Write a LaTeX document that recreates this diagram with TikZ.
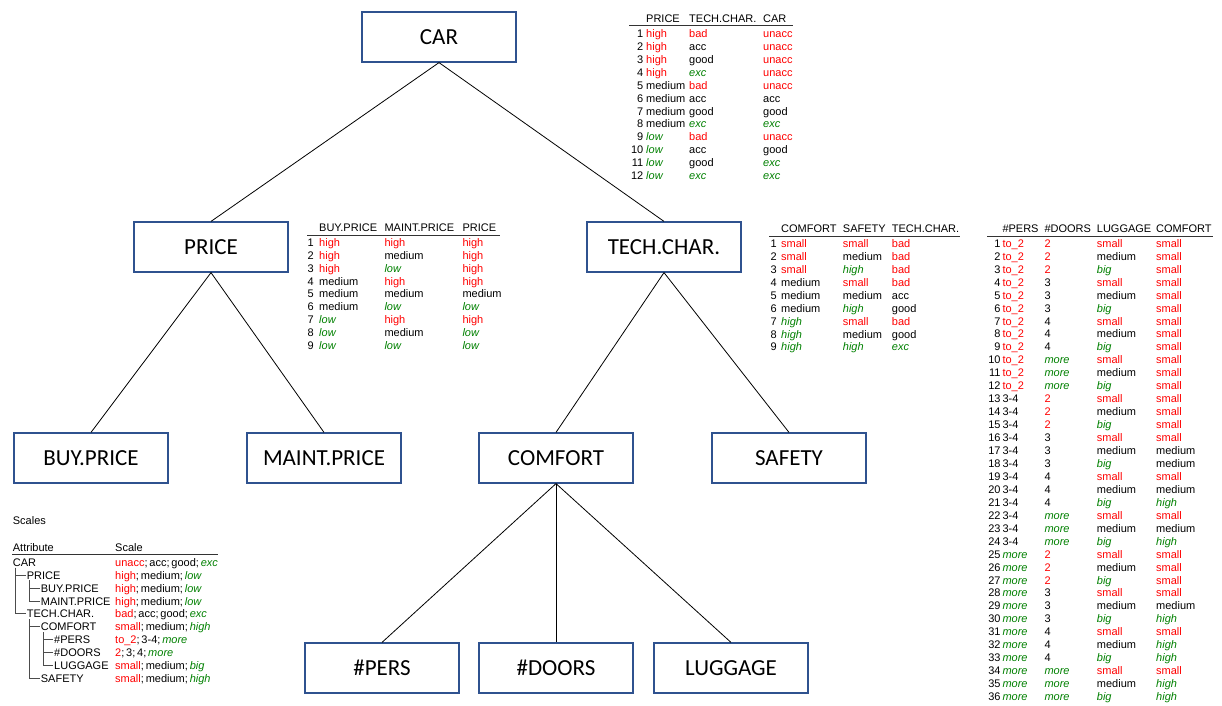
\documentclass[tikz,border=0pt]{standalone}
\usepackage{fontspec}
\setmainfont{Liberation Sans}
\newfontfamily\boxfont{Carlito}
\definecolor{valred}{HTML}{FF0000}
\definecolor{valgreen}{HTML}{008000}
\definecolor{boxblue}{HTML}{2F528F}
\newcommand{\valR}[1]{\textcolor{valred}{#1}}
\newcommand{\valG}[1]{\textcolor{valgreen}{\itshape #1}}
\tikzset{
  attr/.style={draw=boxblue, line width=1.2pt, minimum width=154pt, minimum height=50pt,
    inner sep=0pt, font=\boxfont\fontsize{23}{26}\selectfont},
  cell/.style={inner sep=0pt, anchor=west, text height=8pt, text depth=0pt,
    font=\fontsize{11}{13}\selectfont},
  num/.style={cell, anchor=east},
  rule/.style={line width=0.8pt, black!80},
  tree/.style={line width=0.9pt, black!70},
}
\begin{document}
\begin{tikzpicture}[x=1pt,y=-1pt]
  \useasboundingbox (0,0) rectangle (1222,705);
  % attribute tree
  \node[attr] (car) at (439,37) {CAR};
  \node[attr] (price) at (211,247) {PRICE};
  \node[attr] (tech) at (664,247) {TECH.CHAR.};
  \node[attr] (buy) at (91,458) {BUY.PRICE};
  \node[attr] (maint) at (324,458) {MAINT.PRICE};
  \node[attr] (comfort) at (556,458) {COMFORT};
  \node[attr] (safety) at (789,458) {SAFETY};
  \node[attr] (pers) at (382,668) {\#PERS};
  \node[attr] (doors) at (556,668) {\#DOORS};
  \node[attr] (luggage) at (731,668) {LUGGAGE};
  \begin{scope}[-, line width=0.8pt]
    \draw (car.south) to (price.north);
    \draw (car.south) to (tech.north);
    \draw (price.south) to (buy.north);
    \draw (price.south) to (maint.north);
    \draw (tech.south) to (comfort.north);
    \draw (tech.south) to (safety.north);
    \draw (comfort.south) to (pers.north);
    \draw (comfort.south) to (doors.north);
    \draw (comfort.south) to (luggage.north);
  \end{scope}

  % CAR rules
  \node[cell] (car-ha) at (646,18) {PRICE};
  \node[cell] (car-hb) at (689,18) {TECH.CHAR.};
  \node[cell] (car-hc) at (763,18) {CAR};
  \draw[rule] (629,25.7) -- (793,25.7);
  \foreach \n/\a/\b/\c in {1/\valR{high}/\valR{bad}/\valR{unacc},
      2/\valR{high}/acc/\valR{unacc}, 3/\valR{high}/good/\valR{unacc},
      4/\valR{high}/\valG{exc}/\valR{unacc}, 5/medium/\valR{bad}/\valR{unacc},
      6/medium/acc/acc, 7/medium/good/good, 8/medium/\valG{exc}/\valG{exc},
      9/\valG{low}/\valR{bad}/\valR{unacc}, 10/\valG{low}/acc/good,
      11/\valG{low}/good/\valG{exc}, 12/\valG{low}/\valG{exc}/\valG{exc}} {
    \pgfmathsetmacro\yy{33.3+(\n-1)*12.95}
    \node[num] (car-n\n) at (643.5,\yy) {\n};
    \node[cell] (car-a\n) at (646,\yy) {\a};
    \node[cell] (car-b\n) at (689,\yy) {\b};
    \node[cell] (car-c\n) at (763,\yy) {\c};
  }

  % PRICE rules
  \node[cell] (price-ha) at (319,227.3) {BUY.PRICE};
  \node[cell] (price-hb) at (384.3,227.3) {MAINT.PRICE};
  \node[cell] (price-hc) at (462.3,227.3) {PRICE};
  \draw[rule] (307,235.7) -- (500,235.7);
  \foreach \n/\a/\b/\c in {1/\valR{high}/\valR{high}/\valR{high},
      2/\valR{high}/medium/\valR{high}, 3/\valR{high}/\valG{low}/\valR{high},
      4/medium/\valR{high}/\valR{high}, 5/medium/medium/medium,
      6/medium/\valG{low}/\valG{low}, 7/\valG{low}/\valR{high}/\valR{high},
      8/\valG{low}/medium/\valG{low}, 9/\valG{low}/\valG{low}/\valG{low}} {
    \pgfmathsetmacro\yy{242.3+(\n-1)*12.92}
    \node[num] (price-n\n) at (314,\yy) {\n};
    \node[cell] (price-a\n) at (319,\yy) {\a};
    \node[cell] (price-b\n) at (384.3,\yy) {\b};
    \node[cell] (price-c\n) at (462.3,\yy) {\c};
  }

  % TECH.CHAR. rules
  \node[cell] (tech-ha) at (781,228.3) {COMFORT};
  \node[cell] (tech-hb) at (842.7,228.3) {SAFETY};
  \node[cell] (tech-hc) at (891.7,228.3) {TECH.CHAR.};
  \draw[rule] (769,236.7) -- (960,236.7);
  \foreach \n/\a/\b/\c in {1/\valR{small}/\valR{small}/\valR{bad},
      2/\valR{small}/medium/\valR{bad}, 3/\valR{small}/\valG{high}/\valR{bad},
      4/medium/\valR{small}/\valR{bad}, 5/medium/medium/acc,
      6/medium/\valG{high}/good, 7/\valG{high}/\valR{small}/\valR{bad},
      8/\valG{high}/medium/good, 9/\valG{high}/\valG{high}/\valG{exc}} {
    \pgfmathsetmacro\yy{243.3+(\n-1)*12.96}
    \node[num] (tech-n\n) at (777,\yy) {\n};
    \node[cell] (tech-a\n) at (781,\yy) {\a};
    \node[cell] (tech-b\n) at (842.7,\yy) {\b};
    \node[cell] (tech-c\n) at (891.7,\yy) {\c};
  }

  % COMFORT rules
  \node[cell] (comf-ha) at (1002.3,228.3) {\#PERS};
  \node[cell] (comf-hb) at (1044.3,228.3) {\#DOORS};
  \node[cell] (comf-hc) at (1096.7,228.3) {LUGGAGE};
  \node[cell] (comf-hd) at (1156,228.3) {COMFORT};
  \draw[rule] (987,236.7) -- (1213,236.7);
  \foreach \n/\a/\b/\c/\d in {1/\valR{to\_2}/\valR{2}/\valR{small}/\valR{small},
      2/\valR{to\_2}/\valR{2}/medium/\valR{small},
      3/\valR{to\_2}/\valR{2}/\valG{big}/\valR{small},
      4/\valR{to\_2}/3/\valR{small}/\valR{small},
      5/\valR{to\_2}/3/medium/\valR{small},
      6/\valR{to\_2}/3/\valG{big}/\valR{small},
      7/\valR{to\_2}/4/\valR{small}/\valR{small},
      8/\valR{to\_2}/4/medium/\valR{small},
      9/\valR{to\_2}/4/\valG{big}/\valR{small},
      10/\valR{to\_2}/\valG{more}/\valR{small}/\valR{small},
      11/\valR{to\_2}/\valG{more}/medium/\valR{small},
      12/\valR{to\_2}/\valG{more}/\valG{big}/\valR{small},
      13/3-4/\valR{2}/\valR{small}/\valR{small},
      14/3-4/\valR{2}/medium/\valR{small},
      15/3-4/\valR{2}/\valG{big}/\valR{small},
      16/3-4/3/\valR{small}/\valR{small},
      17/3-4/3/medium/medium,
      18/3-4/3/\valG{big}/medium,
      19/3-4/4/\valR{small}/\valR{small},
      20/3-4/4/medium/medium,
      21/3-4/4/\valG{big}/\valG{high},
      22/3-4/\valG{more}/\valR{small}/\valR{small},
      23/3-4/\valG{more}/medium/medium,
      24/3-4/\valG{more}/\valG{big}/\valG{high},
      25/\valG{more}/\valR{2}/\valR{small}/\valR{small},
      26/\valG{more}/\valR{2}/medium/\valR{small},
      27/\valG{more}/\valR{2}/\valG{big}/\valR{small},
      28/\valG{more}/3/\valR{small}/\valR{small},
      29/\valG{more}/3/medium/medium,
      30/\valG{more}/3/\valG{big}/\valG{high},
      31/\valG{more}/4/\valR{small}/\valR{small},
      32/\valG{more}/4/medium/\valG{high},
      33/\valG{more}/4/\valG{big}/\valG{high},
      34/\valG{more}/\valG{more}/\valR{small}/\valR{small},
      35/\valG{more}/\valG{more}/medium/\valG{high},
      36/\valG{more}/\valG{more}/\valG{big}/\valG{high}} {
    \pgfmathsetmacro\yy{243.3+(\n-1)*12.95}
    \node[num] (comf-n\n) at (1000.7,\yy) {\n};
    \node[cell] (comf-a\n) at (1002.3,\yy) {\a};
    \node[cell] (comf-b\n) at (1044.3,\yy) {\b};
    \node[cell] (comf-c\n) at (1096.7,\yy) {\c};
    \node[cell] (comf-d\n) at (1156,\yy) {\d};
  }

  % scales
  \node[cell] (sc-title) at (12.7,520.7) {Scales};
  \node[cell] (sc-attr) at (12.7,547.3) {Attribute};
  \node[cell] (sc-scale) at (115,547.3) {Scale};
  \draw[rule] (12,554.3) -- (218,554.3);
  \foreach \i/\x/\name/\sc in {0/12.7/CAR/{\valR{unacc};\,acc;\,good;\,\valG{exc}},
      1/26.7/PRICE/{\valR{high};\,medium;\,\valG{low}},
      2/40.7/BUY.PRICE/{\valR{high};\,medium;\,\valG{low}},
      3/40.7/MAINT.PRICE/{\valR{high};\,medium;\,\valG{low}},
      4/26.7/TECH.CHAR./{\valR{bad};\,acc;\,good;\,\valG{exc}},
      5/40.7/COMFORT/{\valR{small};\,medium;\,\valG{high}},
      6/54/\#PERS/{\valR{to\_2};\,3-4;\,\valG{more}},
      7/54/\#DOORS/{\valR{2};\,3;\,4;\,\valG{more}},
      8/54/LUGGAGE/{\valR{small};\,medium;\,\valG{big}},
      9/40.7/SAFETY/{\valR{small};\,medium;\,\valG{high}}} {
    \pgfmathsetmacro\yy{562.3+\i*12.9}
    \node[cell] (s\i) at (\x,\yy) {\name};
    \node[cell] (v\i) at (115,\yy) {\sc};
  }
  \foreach \p/\c in {0/1, 0/4, 1/2, 1/3, 4/5, 4/9, 5/6, 5/7, 5/8}
    \draw[tree] ([shift={(3pt,-1pt)}]s\p.south west) |- ([xshift=-1pt]s\c.west);
\end{tikzpicture}
\end{document}
